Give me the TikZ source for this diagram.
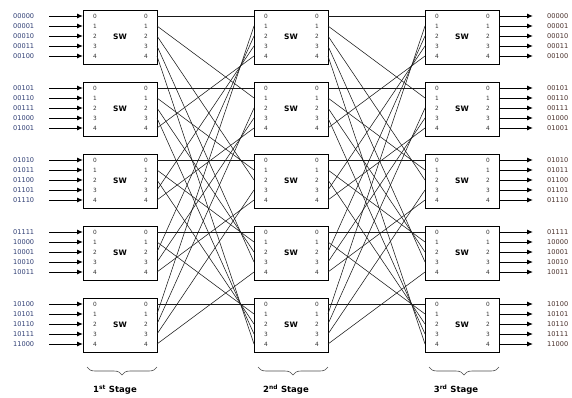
\documentclass[tikz,border=0pt]{standalone}
\usepackage{fontspec}
\setmainfont{DejaVu Sans}
\usetikzlibrary{arrows.meta,decorations.pathreplacing}

\definecolor{inblue}{rgb}{0.18,0.24,0.45}
\definecolor{outbrown}{rgb}{0.28,0.18,0.16}

\begin{document}
\begin{tikzpicture}[
  x=1pt, y=-1pt,
  swbox/.style={draw, line width=1pt, minimum width=74pt, minimum height=54pt, inner sep=0pt, font=\fontsize{7.5}{8}\selectfont\bfseries},
  port/.style={inner sep=0pt, font=\fontsize{5.8}{6}\selectfont, text=black!80},
  addr/.style={inner sep=0pt, anchor=west, font=\fontsize{6.6}{7}\selectfont},
  feed/.style={-{Latex[length=6pt,width=5pt]}, line width=1pt},
  link/.style={line width=0.55pt, draw=black!90},
  brace/.style={decorate, decoration={brace, mirror, amplitude=8pt}, line width=0.6pt, draw=black!70},
  stage/.style={font=\fontsize{8.5}{10}\selectfont\bfseries}
]
\clip (0,0) rectangle (572,397);

% switches with their port numbers
\foreach \s/\x in {1/83,2/254,3/425}
  \foreach \row in {0,...,4} {
    \pgfmathsetmacro\y{10+72*\row}
    \node[swbox] (sw\s\row) at (\x+37,\y+27) {SW};
    \foreach \prt in {0,...,4} {
      \coordinate (in\s\row\prt) at (\x,\y+6+10*\prt);
      \coordinate (out\s\row\prt) at (\x+74,\y+6+10*\prt);
      \node[port] (lp\s\row\prt) at (\x+12,\y+6+10*\prt) {\prt};
      \node[port] (rp\s\row\prt) at (\x+63,\y+6+10*\prt) {\prt};
    }
  }

% links between the stages
\foreach \i in {0,...,4}
  \foreach \j in {0,...,4} {
    \pgfmathtruncatemacro\k{mod(\i+\j,5)}
    \draw[link] (out1\i\j) -- (in2\k\j);
    \draw[link] (out2\i\j) -- (in3\k\j);
  }

% addresses in and out
\foreach \lbl [count=\idx from 0] in {00000,00001,00010,00011,00100,
    00101,00110,00111,01000,01001,01010,01011,01100,01101,01110,
    01111,10000,10001,10010,10011,10100,10101,10110,10111,11000} {
  \pgfmathtruncatemacro\row{div(\idx,5)}
  \pgfmathtruncatemacro\prt{mod(\idx,5)}
  \pgfmathsetmacro\y{16+72*\row+10*\prt}
  \node[addr, text=inblue] (src\idx) at (13,\y) {\lbl};
  \coordinate (tail\idx) at (49,\y);
  \draw[feed] (tail\idx) -- (in1\row\prt);
  \node[addr, text=outbrown] (dst\idx) at (547,\y) {\lbl};
  \coordinate (head\idx) at (533,\y);
  \draw[feed] (out3\row\prt) -- (head\idx);
}

\foreach \s/\x in {1/83,2/254,3/425} {
  \coordinate (bl\s) at (\x+4,367);
  \coordinate (br\s) at (\x+74,367);
  \draw[brace] (bl\s) -- (br\s);
}

\node[stage] (st1) at (115,390) {1\textsuperscript{st} Stage};
\node[stage] (st2) at (286,390) {2\textsuperscript{nd} Stage};
\node[stage] (st3) at (456,390) {3\textsuperscript{rd} Stage};

\end{tikzpicture}
\end{document}
